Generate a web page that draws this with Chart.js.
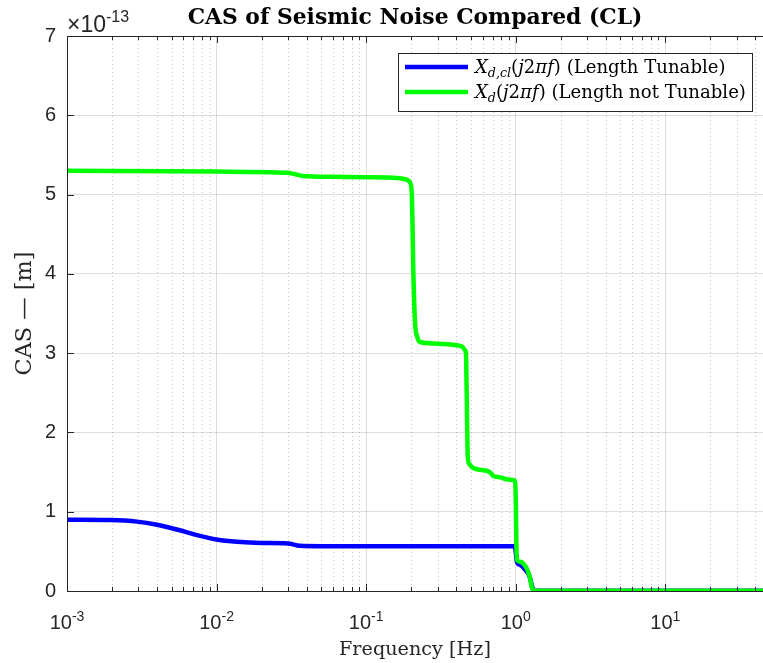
<!DOCTYPE html>
<html>
<head>
<meta charset="utf-8">
<script src="https://cdn.jsdelivr.net/npm/chart.js@4.4.0/dist/chart.umd.min.js"></script>
<style>
  html, body { margin: 0; padding: 0; background: #fff; }
  #wrap { width: 763px; height: 663px; }
</style>
</head>
<body>
<div id="wrap"><canvas id="casChart"></canvas></div>
<script>
// values are in units of 1e-13 m (axis shows the x10^-13 multiplier)
var freqTunable = [0.001, 0.00194, 0.00294, 0.004, 0.00543, 0.0074, 0.01, 0.0137, 0.02, 0.03, 0.036, 0.05, 0.1, 0.5, 0.985,
                   1.0, 1.02, 1.07, 1.18, 1.24, 1.29, 1.33, 2, 10, 45];
var casTunable  = [0.90, 0.895, 0.875, 0.835, 0.775, 0.705, 0.65, 0.62, 0.605, 0.60, 0.57, 0.565, 0.565, 0.565, 0.565,
                   0.50, 0.36, 0.33, 0.25, 0.18, 0.05, 0.005, 0.003, 0.002, 0.002];

var freqFixed = [0.001, 0.01, 0.0296, 0.033, 0.0379, 0.06, 0.1, 0.161, 0.185, 0.197, 0.202, 0.207, 0.212, 0.22, 0.229,
                 0.3, 0.403, 0.44, 0.457, 0.465, 0.47, 0.478, 0.49, 0.52, 0.655, 0.68, 0.707, 0.784, 0.869, 0.95, 0.988,
                 1.0, 1.01, 1.02, 1.07, 1.18, 1.24, 1.28, 1.33, 2, 10, 45];
var casFixed  = [5.30, 5.29, 5.275, 5.26, 5.235, 5.225, 5.22, 5.21, 5.19, 5.15, 5.0, 4.0, 3.4, 3.2, 3.14,
                 3.12, 3.10, 3.08, 3.04, 3.0, 2.5, 1.7, 1.6, 1.55, 1.51, 1.49, 1.45, 1.435, 1.41, 1.40, 1.39,
                 1.2, 0.6, 0.39, 0.37, 0.29, 0.18, 0.05, 0.005, 0.003, 0.002, 0.002];

var xLabelExps = [-3, -2, -1, 0, 1];
var yTickValues = [0, 1, 2, 3, 4, 5, 6, 7];

var titleText = 'CAS of Seismic Noise Compared (CL)';
var xTitle = 'Frequency [Hz]';
var yTitle = 'CAS \u2014 [m]';

// legend text as rich pieces (italic / subscript)
var legendTexts = [
  [{t: 'X', it: 1}, {t: 'd,cl', it: 1, sub: 1}, {t: '('}, {t: 'j', it: 1}, {t: '2'}, {t: '\u03c0', it: 1}, {t: 'f', it: 1}, {t: ') (Length Tunable)'}],
  [{t: 'X', it: 1}, {t: 'd', it: 1, sub: 1}, {t: '('}, {t: 'j', it: 1}, {t: '2'}, {t: '\u03c0', it: 1}, {t: 'f', it: 1}, {t: ') (Length not Tunable)'}]
];

function toPoints(xs, ys) {
  return xs.map(function (x, i) { return {x: x, y: ys[i]}; });
}
function isDecade(v) {
  var l = Math.log10(v);
  return Math.abs(l - Math.round(l)) < 1e-6;
}
function intMantissa(v) {
  var m = v / Math.pow(10, Math.floor(Math.log10(v) + 1e-9));
  return Math.abs(m - Math.round(m)) < 1e-6;
}

var SERIF = '"DejaVu Serif", "Liberation Serif", serif';
var SANS = '"Liberation Sans", Arial, sans-serif';
var AXIS_COL = '#262626';

function fitSize(ctx, text, style, target) {
  ctx.font = style + '20px ' + SERIF;
  return 20 * target / ctx.measureText(text).width;
}

function drawRich(ctx, pieces, x, y, size) {
  pieces.forEach(function (p) {
    var fs = p.sub ? size * 0.7 : size;
    ctx.font = (p.it ? 'italic ' : '') + fs + 'px ' + SERIF;
    ctx.fillText(p.t, x, y + (p.sub ? size * 0.22 : 0));
    x += ctx.measureText(p.t).width;
  });
  return x;
}
function richWidth(ctx, pieces, size) {
  var w = 0;
  pieces.forEach(function (p) {
    var fs = p.sub ? size * 0.7 : size;
    ctx.font = (p.it ? 'italic ' : '') + fs + 'px ' + SERIF;
    w += ctx.measureText(p.t).width;
  });
  return w;
}

var minorGrid = {
  id: 'minorGrid',
  beforeDatasetsDraw: function (chart) {
    var ctx = chart.ctx, a = chart.chartArea, xs = chart.scales.x;
    ctx.save();
    ctx.strokeStyle = 'rgba(0,0,0,0.22)';
    ctx.lineWidth = 1;
    ctx.setLineDash([1, 3]);
    xs.ticks.forEach(function (t) {
      if (isDecade(t.value)) return;
      var px = Math.round(xs.getPixelForValue(t.value)) + 0.5;
      ctx.beginPath();
      ctx.moveTo(px, a.top);
      ctx.lineTo(px, a.bottom);
      ctx.stroke();
    });
    ctx.restore();
  }
};

var axesDecor = {
  id: 'axesDecor',
  afterDraw: function (chart) {
    var ctx = chart.ctx, a = chart.chartArea, xs = chart.scales.x, ys = chart.scales.y;
    ctx.save();
    // box
    ctx.strokeStyle = AXIS_COL;
    ctx.lineWidth = 1;
    ctx.beginPath();
    ctx.moveTo(a.left + 0.5, a.top + 0.5);
    ctx.lineTo(a.left + 0.5, a.bottom + 0.5);
    ctx.lineTo(a.right, a.bottom + 0.5);
    ctx.moveTo(a.left + 0.5, a.top + 0.5);
    ctx.lineTo(a.right, a.top + 0.5);
    ctx.stroke();
    // inward ticks
    ctx.beginPath();
    xs.ticks.forEach(function (t) {
      var px = Math.round(xs.getPixelForValue(t.value)) + 0.5;
      var len = isDecade(t.value) ? 7 : 4;
      ctx.moveTo(px, a.bottom);
      ctx.lineTo(px, a.bottom - len);
      ctx.moveTo(px, a.top);
      ctx.lineTo(px, a.top + len);
    });
    yTickValues.forEach(function (v) {
      var py = Math.round(ys.getPixelForValue(v)) + 0.5;
      ctx.moveTo(a.left, py);
      ctx.lineTo(a.left + 7, py);
    });
    ctx.stroke();

    ctx.fillStyle = AXIS_COL;
    ctx.textBaseline = 'alphabetic';
    ctx.textAlign = 'left';
    // x tick labels 10^n
    xLabelExps.forEach(function (e) {
      var px = xs.getPixelForValue(Math.pow(10, e));
      ctx.font = '20px ' + SANS;
      var w1 = ctx.measureText('10').width;
      ctx.font = '14px ' + SANS;
      var w2 = ctx.measureText(String(e)).width;
      var x0 = px - (w1 + w2) / 2;
      ctx.font = '20px ' + SANS;
      ctx.fillText('10', x0, 629);
      ctx.font = '14px ' + SANS;
      ctx.fillText(String(e), x0 + w1, 621);
    });
    // exponent multiplier
    ctx.font = '23px ' + SANS;
    ctx.fillText('\u00d710', a.left, 32);
    var wm = ctx.measureText('\u00d710').width;
    ctx.font = '16px ' + SANS;
    ctx.fillText('-13', a.left + wm, 22);

    // title
    ctx.fillStyle = '#000';
    ctx.textAlign = 'center';
    var ts = fitSize(ctx, titleText, 'bold ', 455);
    ctx.font = 'bold ' + ts + 'px ' + SERIF;
    ctx.fillText(titleText, (a.left + a.right) / 2, 24);

    // axis titles
    ctx.fillStyle = AXIS_COL;
    var xsz = fitSize(ctx, xTitle, '', 152);
    ctx.font = xsz + 'px ' + SERIF;
    ctx.fillText(xTitle, (a.left + a.right) / 2, 655);
    var ysz = fitSize(ctx, yTitle, '', 124);
    ctx.font = ysz + 'px ' + SERIF;
    ctx.translate(31, (a.top + a.bottom) / 2);
    ctx.rotate(-Math.PI / 2);
    ctx.fillText(yTitle, 0, 0);
    ctx.setTransform(1, 0, 0, 1, 0, 0);

    // legend
    var bx = 398.5, by = 53.5, bw = 354, bh = 58;
    ctx.fillStyle = '#fff';
    ctx.fillRect(bx, by, bw, bh);
    ctx.strokeStyle = AXIS_COL;
    ctx.lineWidth = 1;
    ctx.strokeRect(bx, by, bw, bh);
    var lsz = 20 * 271 / richWidth(ctx, legendTexts[1], 20);
    var rowY = [67, 92];
    ctx.textAlign = 'left';
    chart.data.datasets.forEach(function (ds, i) {
      ctx.strokeStyle = ds.borderColor;
      ctx.lineWidth = ds.borderWidth;
      ctx.beginPath();
      ctx.moveTo(405, rowY[i]);
      ctx.lineTo(468, rowY[i]);
      ctx.stroke();
      ctx.fillStyle = '#000';
      drawRich(ctx, legendTexts[i], 475, rowY[i] + 6, lsz);
    });
    ctx.restore();
  }
};

var chartCtx = document.getElementById('casChart').getContext('2d');
new Chart(chartCtx, {
  type: 'line',
  data: {
    datasets: [{
      label: 'Length Tunable',
      data: toPoints(freqTunable, casTunable),
      borderColor: '#0000ff',
      borderWidth: 4.5,
      pointRadius: 0,
      cubicInterpolationMode: 'monotone',
      fill: false,
      borderJoinStyle: 'round',
      order: 1
    }, {
      label: 'Length not Tunable',
      data: toPoints(freqFixed, casFixed),
      borderColor: '#00ff00',
      borderWidth: 4.5,
      pointRadius: 0,
      cubicInterpolationMode: 'monotone',
      fill: false,
      borderJoinStyle: 'round',
      order: 0
    }]
  },
  options: {
    responsive: true,
    maintainAspectRatio: false,
    animation: false,
    devicePixelRatio: 1,
    layout: { padding: { top: 36, left: 0, right: 0, bottom: 0 } },
    plugins: {
      legend: { display: false },
      title: { display: false },
      tooltip: { enabled: false }
    },
    scales: {
      x: {
        type: 'logarithmic',
        min: 0.001,
        max: 45,
        afterBuildTicks: function (s) {
          s.ticks = s.ticks.filter(function (t) { return intMantissa(t.value); });
        },
        afterFit: function (s) { s.height = 72; },
        ticks: { display: false },
        border: { display: false },
        grid: {
          drawTicks: false,
          lineWidth: 1,
          color: function (c) {
            return c.tick && isDecade(c.tick.value) ? 'rgba(0,0,0,0.13)' : 'rgba(0,0,0,0)';
          }
        }
      },
      y: {
        type: 'linear',
        min: 0,
        max: 7,
        afterFit: function (s) { s.width = 67; },
        ticks: {
          stepSize: 1,
          padding: 11,
          color: AXIS_COL,
          font: { family: 'Liberation Sans', size: 20 }
        },
        border: { display: false },
        grid: { drawTicks: false, lineWidth: 1, color: 'rgba(0,0,0,0.13)' }
      }
    }
  },
  plugins: [minorGrid, axesDecor]
});
</script>
</body>
</html>
